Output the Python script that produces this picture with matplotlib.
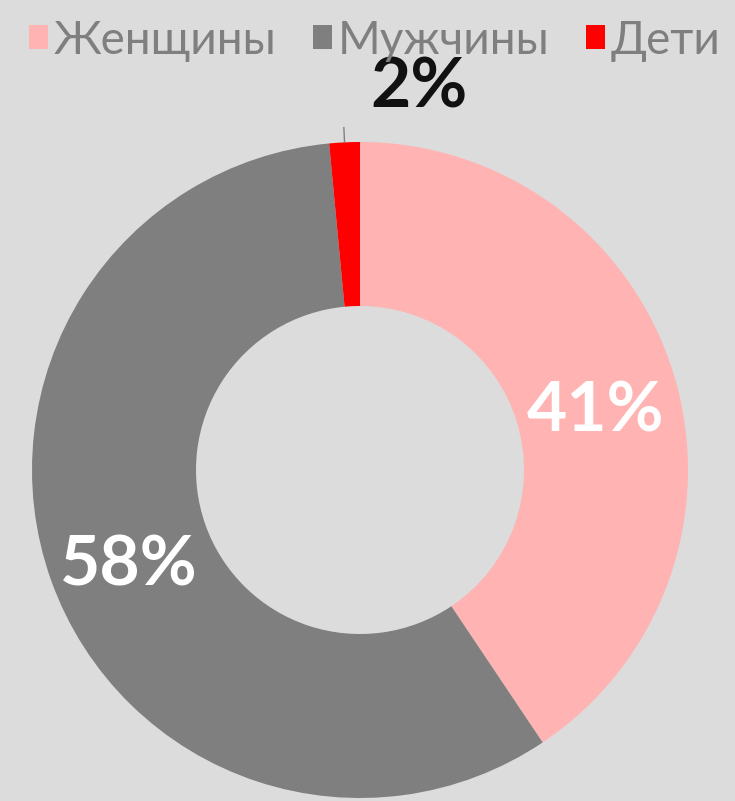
import matplotlib.pyplot as plt
import numpy as np

# data
categories = ['Женщины', 'Мужчины', 'Дети']
shares = [40.6, 57.9, 1.5]
colors = ['#ffb3b3', '#7f7f7f', '#ff0000']

bg = '#dcdcdc'
fig = plt.figure(figsize=(7.35, 8.01), dpi=100, facecolor=bg)
ax = fig.add_axes([32/735, 3/801, 656/735, 656/801])
ax.set_facecolor(bg)

wedges, _ = ax.pie(shares, colors=colors, startangle=90, counterclock=False,
                   radius=1.0, wedgeprops=dict(width=0.5, linewidth=0))
ax.set_xlim(-1, 1)
ax.set_ylim(-1, 1)

total = sum(shares)
lab_font = dict(family='Lato', fontweight='bold', fontsize=50)
for w, v in zip(wedges, shares):
    mid = np.deg2rad((w.theta1 + w.theta2) / 2)
    txt = '%d%%' % round(v / total * 100 + 0.01)
    if v / total < 0.05:
        # small slice: label outside with a short leader line
        x0, y0 = np.cos(mid), np.sin(mid)
        ax.plot([x0, x0 * 1.045], [y0, y0 * 1.045], color='#808080', lw=1,
                clip_on=False)
        ax.text(x0 * 1.045 + 0.23, y0 * 1.045 + 0.12, txt, color='#111111',
                ha='center', va='center', clip_on=False, **lab_font)
    else:
        ax.text(0.75 * np.cos(mid), 0.75 * np.sin(mid) - 0.04, txt, color='white',
                ha='center', va='center', **lab_font)

leg = fig.legend(wedges, categories, loc='upper center', bbox_to_anchor=(0.51, 1.027),
                 ncol=3, frameon=False, handlelength=0.42, handleheight=0.42,
                 handletextpad=0.12, columnspacing=0.8,
                 prop=dict(family='Lato', size=33))
for t in leg.get_texts():
    t.set_color('#7f7f7f')

fig.savefig('out.png', dpi=100, facecolor=bg)
